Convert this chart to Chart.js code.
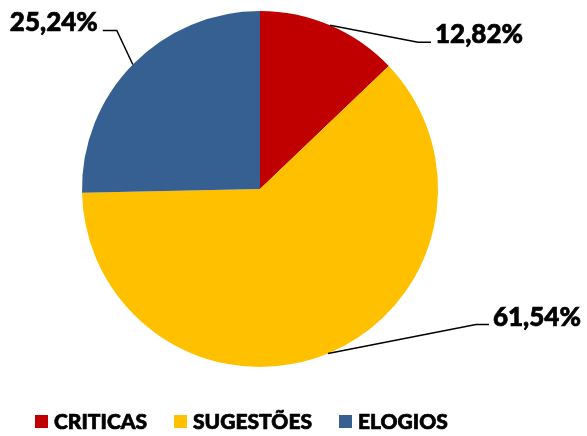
<!DOCTYPE html>
<html>
<head>
<meta charset="utf-8">
<script src="https://cdn.jsdelivr.net/npm/chart.js@4.4.1/dist/chart.umd.min.js"></script>
<style>
  html, body { margin: 0; padding: 0; background: #fff; }
  canvas { display: block; }
</style>
</head>
<body>
<canvas id="pieChart" width="587" height="436"></canvas>
<script>
const categories = ['CRITICAS', 'SUGESTÕES', 'ELOGIOS'];
const shares = [12.82, 61.54, 25.24];
const sliceColors = ['#C00000', '#FFC000', '#376092'];

// where each leader line bends, relative to the slice edge
const leaderBends = [[88, 17], [148, -29], [-16, -34]];

const FONT = 'Lato, "Open Sans", sans-serif';

const fmtPct = (v) => v.toFixed(2).replace('.', ',') + '%';

// heavier text, Calibri bold is a bit darker than Lato bold
function boldText(ctx, txt, x, y) {
  ctx.fillText(txt, x, y);
  ctx.lineWidth = 0.7;
  ctx.strokeStyle = ctx.fillStyle;
  ctx.strokeText(txt, x, y);
}

const leaderLabels = {
  id: 'leaderLabels',
  afterDatasetsDraw(chart) {
    const ctx = chart.ctx;
    const meta = chart.getDatasetMeta(0);
    ctx.save();
    ctx.fillStyle = '#000';
    ctx.font = '900 26px ' + FONT;
    ctx.textBaseline = 'alphabetic';
    meta.data.forEach((arc, i) => {
      const p = arc.getProps(['x', 'y', 'startAngle', 'endAngle', 'outerRadius'], true);
      const mid = (p.startAngle + p.endAngle) / 2;
      const ex = p.x + Math.cos(mid) * p.outerRadius;
      const ey = p.y + Math.sin(mid) * p.outerRadius;
      const bx = ex + leaderBends[i][0];
      const by = ey + leaderBends[i][1];
      const right = bx >= p.x;
      const hx = right ? bx + 13 : bx - 14;
      ctx.strokeStyle = '#000';
      ctx.lineWidth = 1.5;
      ctx.beginPath();
      ctx.moveTo(ex, ey);
      ctx.lineTo(bx, by);
      ctx.lineTo(hx, by);
      ctx.stroke();
      ctx.textAlign = right ? 'left' : 'right';
      boldText(ctx, fmtPct(shares[i]), right ? hx + 4 : hx - 5, by + 1);
    });
    ctx.restore();
  }
};

const bottomLegend = {
  id: 'bottomLegend',
  afterDraw(chart) {
    const ctx = chart.ctx;
    ctx.save();
    ctx.font = '900 21px ' + FONT;
    ctx.textBaseline = 'middle';
    ctx.textAlign = 'left';
    let x = 35;
    const y = 422;
    categories.forEach((name, i) => {
      ctx.fillStyle = sliceColors[i];
      ctx.fillRect(x, y - 7, 13, 13);
      ctx.fillStyle = '#000';
      boldText(ctx, name, x + 19, y);
      x += 19 + ctx.measureText(name).width + 27;
    });
    ctx.restore();
  }
};

new Chart(document.getElementById('pieChart').getContext('2d'), {
  type: 'pie',
  data: {
    labels: categories,
    datasets: [{
      data: shares,
      backgroundColor: sliceColors,
      borderWidth: 0,
    }],
  },
  options: {
    responsive: false,
    animation: false,
    layout: { padding: { top: 11, bottom: 69, left: 82, right: 149 } },
    plugins: {
      legend: { display: false },
      tooltip: { enabled: false },
    },
  },
  plugins: [leaderLabels, bottomLegend],
});
</script>
</body>
</html>
